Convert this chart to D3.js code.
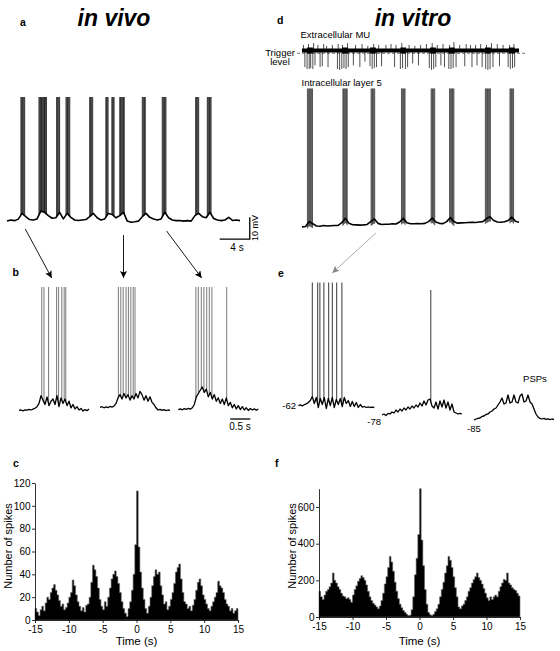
<!DOCTYPE html>
<html>
<head>
<meta charset="utf-8">
<script src="https://cdn.jsdelivr.net/npm/d3@7"></script>
<style>
  body { margin: 0; background: #fff; }
  svg { display: block; }
  text { font-family: "Liberation Sans", Arial, sans-serif; fill: #000; }
</style>
</head>
<body>
<div id="fig"></div>
<script>
// a: in vivo membrane potential (mV), one sample every 0.5 s, 0-31 s
var dtA = 0.5;
var vmA = [-65.5, -65, -65.3, -64.6, -62, -63.5, -64.8, -65, -64.5, -61,
           -61.5, -63, -64.2, -64, -61.5, -64.5, -62, -63.8, -65, -65.2,
           -65, -64.8, -63.5, -62, -64, -65, -64.5, -62, -62.5, -64,
           -63, -61.5, -65.5, -66, -65.8, -65.5, -63.5, -62, -63.8, -64.5,
           -65, -64.5, -61.5, -64, -65, -65.3, -65.2, -65.5, -65.3, -65.5,
           -63, -62, -63.5, -64, -61.5, -64.3, -65, -65.3, -65, -63.8,
           -65.2, -65, -65.3];
var burstTimeA = [2.1, 4.4, 4.8, 5.1, 6.8, 8.1, 11.2, 13.3, 14.1, 15.3, 18.2, 20.9, 25.3, 26.9];
var burstCountA = [6, 4, 5, 4, 5, 6, 5, 4, 4, 7, 5, 6, 5, 6];

// b: three bursts at higher time resolution, one sample every 0.05 s
var dtB = 0.05;
var vmB1 = [-65.2, -65.0, -65.4, -64.9, -65.1, -64.7, -65.0, -64.6, -64.2, -63.5,
            -62.0, -58.5, -60.5, -62.5, -59.0, -63.0, -61.0, -60.0, -62.5, -58.5,
            -63.5, -59.5, -62.0, -60.0, -63.0, -61.0, -64.0, -62.5, -64.5, -63.5,
            -65.0, -64.3, -65.5, -64.8, -65.3, -64.5];
var spikesB1 = [0.57, 0.625, 0.74, 0.94, 0.99, 1.07, 1.13, 1.17];
var vmB2 = [-63.8, -63.5, -64.0, -63.6, -63.9, -63.4, -63.7, -63.2, -62.0, -59.5,
            -58.0, -60.0, -57.5, -59.5, -58.0, -60.5, -58.5, -60.0, -57.5, -59.5,
            -56.5, -58.0, -60.5, -58.5, -61.0, -59.0, -61.5, -62.5, -64.0, -65.0,
            -64.7, -65.2, -64.8, -65.3, -65.0, -65.2];
var spikesB2 = [0.46, 0.52, 0.58, 0.65, 0.71, 0.77, 0.83, 0.875];
var vmB3 = [-64.8, -64.5, -64.9, -64.4, -64.7, -64.3, -64.6, -64.0, -62.5, -59.0,
            -57.5, -56.0, -54.5, -57.0, -55.5, -59.0, -57.0, -60.0, -58.0, -61.0,
            -59.5, -62.0, -60.0, -62.5, -59.5, -63.0, -61.5, -64.0, -62.5, -64.5,
            -63.0, -64.8, -63.5, -65.0, -64.0, -65.2, -64.3, -65.0, -64.5, -65.1,
            -64.6];
var spikesB3 = [0.44, 0.5, 0.575, 0.64, 0.71, 0.775, 0.84, 1.21];
var spikePeakAB = -9;

// d: in vitro, extracellular multi-unit (arbitrary units) and intracellular layer 5 (mV), 0-30 s
var muDownT = [0.4, 0.7, 1.0, 1.2, 1.5, 1.8, 2.5, 2.8, 3.6, 4.9, 5.2, 5.5, 5.8, 6.1, 6.4, 7.1, 8.0, 8.7,
               9.4, 9.7, 10.0, 10.3, 11.0, 12.8, 13.6, 13.9, 14.3, 14.6, 15.3, 16.1, 17.6, 17.9, 18.2,
               18.5, 19.2, 19.7, 20.3, 20.6, 20.9, 21.3, 22.5, 23.5, 24.2, 24.9, 25.4, 25.7, 26.0, 26.4,
               27.3, 28.5, 28.8, 29.1, 29.4];
var muDownA = [-0.9, -1.0, -1.0, -0.95, -1.0, -0.8, -0.9, -0.85, -0.9, -1.0, -1.05, -1.0, -0.95, -1.0,
               -0.9, -0.8, -0.9, -0.6, -0.85, -1.0, -0.95, -0.9, -0.85, -0.9, -1.0, -0.95, -1.0, -0.9,
               -0.7, -0.8, -0.95, -1.05, -1.0, -0.9, -0.8, -0.9, -1.0, -1.0, -0.95, -0.9, -0.85, -0.9,
               -0.8, -0.9, -1.0, -1.05, -1.0, -0.9, -0.85, -0.9, -1.0, -0.95, -0.9];
var muUpT = [0.2, 0.9, 1.6, 2.2, 3.0, 3.4, 4.2, 5.0, 5.6, 6.3, 7.4, 8.3, 9.1, 9.9, 10.6, 11.6, 12.3,
             13.0, 13.8, 14.8, 15.6, 16.4, 17.2, 18.0, 18.7, 19.5, 20.4, 21.0, 21.8, 22.7, 23.3, 24.0,
             24.7, 25.5, 26.2, 27.0, 27.8, 28.7, 29.3];
var muUpA = [0.3, 0.35, 0.4, 0.3, 0.35, 0.25, 0.3, 0.35, 0.3, 0.4, 0.3, 0.35, 0.25, 0.35, 0.3, 0.3,
             0.35, 0.3, 0.4, 0.3, 0.25, 0.3, 0.35, 0.4, 0.3, 0.35, 0.3, 0.45, 0.3, 0.35, 0.3, 0.3,
             0.35, 0.3, 0.4, 0.35, 0.3, 0.3, 0.35];
var triggerLevel = -0.15;
var dtD = 0.5;
var vmD = [-62.4, -62.2, -60.0, -61.0, -62.0, -62.1, -61.8, -62.0, -61.9, -61.8,
           -61.7, -60.5, -58.5, -60.8, -61.4, -61.5, -61.6, -61.5, -61.3, -60.0,
           -58.8, -60.8, -61.3, -61.2, -61.2, -61.0, -61.1, -60.2, -58.5, -60.5,
           -61.0, -61.0, -60.9, -61.0, -60.8, -60.0, -58.4, -60.2, -60.8, -60.9,
           -60.0, -58.2, -60.0, -60.7, -60.6, -60.5, -60.4, -60.3, -60.4, -60.2,
           -60.0, -58.6, -57.8, -59.5, -60.2, -60.3, -60.1, -59.5, -58.0, -59.8,
           -60.3];
var burstTimeD = [1.1, 5.95, 9.8, 14.0, 18.1, 20.7, 25.7, 29.0];
var burstCountD = [8, 7, 6, 6, 6, 7, 8, 6];
var spikePeakD = 0.5;

// e: three holding potentials, mV relative to rest, one sample every 0.05 s
var dtE = 0.05;
var restE = [-62, -78, -85];
var vmE1 = [0, 0.3, -0.2, 0.4, 0.8, 1.5, 2.5, 4.5, 1.0, 4.0,
            -1.0, 3.5, 0.5, 4.0, -1.5, 3.5, 0.0, 4.0, -1.0, 3.0,
            0.5, 3.5, -0.5, 4.0, 1.0, 2.5, -0.5, 2.0, -0.5, 1.5,
            -1.0, 0.5, -0.8, -0.5, -1.0, -0.7, -1.0, -0.8, -1.0];
var spikesE1 = [0.35, 0.485, 0.54, 0.64, 0.76, 0.85, 0.96, 1.09];
var vmE2 = [0, 0.5, -0.3, 0.8, 0.5, 1.5, 1.0, 2.5, 1.5, 3.0,
            2.0, 3.5, 2.5, 4.0, 3.0, 4.5, 3.5, 5.0, 4.0, 6.0,
            4.5, 7.0, 5.0, 7.5, 8.0, 4.5, 3.5, 6.5, 3.0, 7.0,
            4.0, 7.5, 3.5, 6.5, 2.5, 5.5, 1.5, 1.0, 0.5, 0.8,
            0.5];
var spikesE2 = [1.22];
var vmE3 = [0, 0.5, 0.8, 1.0, 1.8, 2.0, 2.8, 3.0, 4.0, 4.5,
            5.5, 6.0, 7.5, 9.0, 11.0, 8.0, 8.5, 12.5, 8.5, 9.0,
            12.5, 9.0, 8.5, 12.0, 13.0, 9.0, 9.5, 12.5, 9.0, 8.0,
            5.5, 3.0, 1.5, 0.8, 0.5, 0.8, 0.3, 0.6, 0.2, 0.5,
            0.3];
var spikesE3 = [];
var spikePeakE = [61.5, 62.5, 0];

// c, f: cross-correlograms, bins of 0.25 s from -15 s to 15 s
var binStart = -15, binWidth = 0.25;
var countsC = [10, 7, 4, 9, 12, 8, 15, 20, 18, 24,
               28, 31, 26, 22, 17, 12, 14, 9, 11, 15,
               20, 24, 35, 30, 22, 16, 12, 8, 11, 7,
               13, 14, 20, 33, 48, 44, 38, 28, 18, 12,
               9, 16, 12, 20, 28, 36, 40, 43, 38, 32,
               24, 16, 10, 6, 3, 10, 16, 26, 40, 66,
               113, 64, 42, 28, 18, 10, 6, 12, 20, 30,
               38, 44, 40, 42, 30, 22, 14, 16, 9, 12,
               18, 24, 32, 42, 46, 49, 36, 24, 16, 14,
               10, 12, 8, 13, 18, 26, 33, 36, 30, 22,
               18, 14, 10, 8, 12, 16, 20, 24, 34, 30,
               28, 24, 18, 14, 12, 8, 10, 6, 8, 10];
var countsF = [140, 110, 95, 120, 140, 150, 165, 185, 240, 200,
               185, 165, 150, 130, 115, 110, 100, 105, 95, 80,
               120, 150, 170, 195, 210, 225, 215, 200, 175, 140,
               110, 90, 75, 65, 55, 45, 60, 90, 130, 180,
               220, 270, 330, 300, 250, 190, 140, 100, 70, 50,
               35, 25, 15, 8, 10, 40, 110, 230, 320, 450,
               700, 420, 280, 150, 70, 25, 12, 8, 15, 30,
               45, 70, 110, 150, 190, 240, 280, 330, 310, 270,
               220, 160, 110, 55, 45, 60, 70, 90, 110, 140,
               160, 185, 205, 220, 240, 215, 200, 180, 155, 130,
               105, 90, 110, 95, 110, 120, 110, 140, 165, 185,
               205, 200, 240, 185, 175, 160, 150, 145, 130, 115];
var timeTicks = [-15, -10, -5, 0, 5, 10, 15];
var yTicksC = [0, 20, 40, 60, 80, 100, 120];
var yTicksF = [0, 200, 400, 600];

var svg = d3.select("#fig").append("svg")
    .attr("width", 560)
    .attr("height", 651);
svg.append("rect").attr("width", 560).attr("height", 651).attr("fill", "#fff");

var defs = svg.append("defs");
[["headBlack", "#000"], ["headGrey", "#888"]].forEach(function (m) {
    defs.append("marker")
        .attr("id", m[0])
        .attr("viewBox", "0 0 10 10")
        .attr("refX", 10).attr("refY", 5)
        .attr("markerWidth", 7).attr("markerHeight", 7)
        .attr("markerUnits", "userSpaceOnUse")
        .attr("orient", "auto")
        .append("path")
        .attr("d", "M0,0 L10,5 L0,10 L2,5 z")
        .attr("fill", m[1]);
});

// linear reading of a sampled trace, used only to hang spikes on the trace
function valueAt(vm, dt, t) {
    var i = Math.max(0, Math.min(vm.length - 1, Math.floor(t / dt)));
    var j = Math.min(vm.length - 1, i + 1);
    var f = Math.max(0, Math.min(1, t / dt - i));
    return vm[i] + (vm[j] - vm[i]) * f;
}

function burstSpikes(times, counts, isi) {
    var out = [];
    times.forEach(function (t, k) {
        for (var i = 0; i < counts[k]; i++) out.push(t + (i - (counts[k] - 1) / 2) * isi);
    });
    return out;
}

function drawTrace(vm, dt, x, y, spikeTimes, peak, o) {
    svg.append("g").selectAll("line")
        .data(spikeTimes)
        .join("line")
        .attr("x1", function (d) { return x(d); })
        .attr("x2", function (d) { return x(d); })
        .attr("y1", function (d) { return y(valueAt(vm, dt, d) - o.under); })
        .attr("y2", y(peak))
        .attr("stroke", o.spikeColor)
        .attr("stroke-width", o.spikeWidth);
    svg.append("path")
        .datum(vm)
        .attr("d", d3.line().x(function (d, i) { return x(i * dt); }).y(function (d) { return y(d); }))
        .attr("fill", "none")
        .attr("stroke", "#000")
        .attr("stroke-width", o.width)
        .attr("stroke-linejoin", "round");
}

function label(txt, x, y, size, opt) {
    opt = opt || {};
    var t = svg.append("text")
        .attr("x", x).attr("y", y)
        .text(txt)
        .style("font-size", size + "px")
        .attr("text-anchor", opt.anchor || "start");
    if (opt.bold) t.attr("font-weight", "bold");
    if (opt.italic) t.attr("font-style", "italic");
    if (opt.rotate) t.attr("transform", "rotate(-90," + x + "," + y + ")");
    return t;
}

// ---------- panel a ----------
var xA = d3.scaleLinear().domain([0, 31]).range([7, 240]);
var yA = d3.scaleLinear().domain([-65, -9]).range([220, 97]);
label("a", 20, 26, 10.5, { bold: true });
label("in vivo", 114, 26, 23, { bold: true, italic: true, anchor: "middle" });
drawTrace(vmA, dtA, xA, yA, burstSpikes(burstTimeA, burstCountA, 0.1), spikePeakAB,
    { width: 1.6, spikeColor: "#222", spikeWidth: 0.9, under: 0 });

// scale bar 4 s / 10 mV
var barEnd = 32.3, barBase = -73.7;
svg.append("path")
    .attr("d", "M" + xA(barEnd - 4) + "," + yA(barBase) + "H" + xA(barEnd) + "V" + yA(barBase + 10))
    .attr("fill", "none").attr("stroke", "#000").attr("stroke-width", 1.3);
label("4 s", 237, 250.5, 10, { anchor: "middle" });
label("10 mV", 258, 228, 9, { anchor: "middle", rotate: true });

// ---------- panel b ----------
var bSegments = [
    { vm: vmB1, spikes: spikesB1, x0: 19 },
    { vm: vmB2, spikes: spikesB2, x0: 100 },
    { vm: vmB3, spikes: spikesB3, x0: 178.3 }
];
var yB = d3.scaleLinear().domain([-65, -9]).range([410, 287]);
label("b", 12.5, 276, 10.5, { bold: true });
bSegments.forEach(function (s) {
    var dur = (s.vm.length - 1) * dtB;
    s.x = d3.scaleLinear().domain([0, dur]).range([s.x0, s.x0 + dur * 40]);
    drawTrace(s.vm, dtB, s.x, yB, s.spikes, spikePeakAB,
        { width: 1.3, spikeColor: "#555", spikeWidth: 0.8, under: 0 });
});
var xB3 = bSegments[2].x;
svg.append("line")
    .attr("x1", xB3(1.3)).attr("x2", xB3(1.8))
    .attr("y1", 419).attr("y2", 419)
    .attr("stroke", "#000").attr("stroke-width", 1.3);
label("0.5 s", 240, 429.5, 10, { anchor: "middle" });

// arrows a -> b
var arrowAB = [
    { burst: 0, y0: 229, x1: 51.7 },
    { burst: 9, y0: 235, x1: 123.5 },
    { burst: 11, y0: 231, x1: 201.7 }
];
arrowAB.forEach(function (a) {
    var x0 = xA(burstTimeA[a.burst]) + 2.5;
    if (a.burst === 9) x0 = a.x1;
    svg.append("line")
        .attr("x1", x0).attr("y1", a.y0)
        .attr("x2", a.x1).attr("y2", 278)
        .attr("stroke", "#000").attr("stroke-width", 0.9)
        .attr("marker-end", "url(#headBlack)");
});

// ---------- panel d ----------
var xD = d3.scaleLinear().domain([0, 30]).range([302, 519]);
var yMU = d3.scaleLinear().domain([-1, 0.4]).range([69, 43.1]);
var yD = d3.scaleLinear().domain([-62, spikePeakD]).range([226, 88.5]);
label("d", 277, 23.5, 10.5, { bold: true });
label("in vitro", 413, 26, 23, { bold: true, italic: true, anchor: "middle" });
label("Extracellular MU", 300.5, 37.5, 9.5);
label("Trigger", 280, 55.5, 9.5, { anchor: "middle" });
label("level", 280, 65, 9.5, { anchor: "middle" });
label("Intracellular layer 5", 301.5, 85.5, 9.5);

svg.append("line")
    .attr("x1", xD(0) - 5).attr("x2", xD(30) + 8)
    .attr("y1", yMU(triggerLevel)).attr("y2", yMU(triggerLevel))
    .attr("stroke", "#333").attr("stroke-width", 0.7)
    .attr("stroke-dasharray", "3,2");
svg.append("g").selectAll("line")
    .data(muDownT.map(function (t, i) { return { t: t, a: muDownA[i] }; })
        .concat(muUpT.map(function (t, i) { return { t: t, a: muUpA[i] }; })))
    .join("line")
    .attr("x1", function (d) { return xD(d.t); })
    .attr("x2", function (d) { return xD(d.t); })
    .attr("y1", yMU(0))
    .attr("y2", function (d) { return yMU(d.a); })
    .attr("stroke", "#222").attr("stroke-width", 0.8);
svg.append("line")
    .attr("x1", xD(0)).attr("x2", xD(30))
    .attr("y1", yMU(0)).attr("y2", yMU(0))
    .attr("stroke", "#000").attr("stroke-width", 4.2);
svg.append("g").selectAll("line")
    .data(burstTimeD)
    .join("line")
    .attr("x1", function (d) { return xD(d - 0.4); })
    .attr("x2", function (d) { return xD(d + 0.4); })
    .attr("y1", yMU(0)).attr("y2", yMU(0))
    .attr("stroke", "#000").attr("stroke-width", 6);

drawTrace(vmD, dtD, xD, yD, burstSpikes(burstTimeD, burstCountD, 0.1), spikePeakD,
    { width: 1.6, spikeColor: "#333", spikeWidth: 0.8, under: 2 });

// ---------- panel e ----------
var eSegments = [
    { vm: vmE1, spikes: spikesE1, x0: 298.3, y0: 405.5, lab: [296, 408.5, "end"] },
    { vm: vmE2, spikes: spikesE2, x0: 382, y0: 415, lab: [381, 425, "end"] },
    { vm: vmE3, spikes: spikesE3, x0: 474, y0: 420, lab: [467, 431.5, "start"] }
];
label("e", 278, 277, 10.5, { bold: true });
eSegments.forEach(function (s, k) {
    var dur = (s.vm.length - 1) * dtE;
    s.x = d3.scaleLinear().domain([0, dur]).range([s.x0, s.x0 + dur * 40]);
    s.y = d3.scaleLinear().domain([0, 10]).range([s.y0, s.y0 - 20]);
    drawTrace(s.vm, dtE, s.x, s.y, s.spikes, spikePeakE[k],
        { width: 1.3, spikeColor: "#222", spikeWidth: 0.9, under: 0 });
    label(String(restE[k]), s.lab[0], s.lab[1], 9.5, { anchor: s.lab[2] });
});
label("PSPs", 535, 381.5, 9.5, { anchor: "middle" });

// arrow d -> e
svg.append("line")
    .attr("x1", xD(burstTimeD[2]) + 3).attr("y1", 233)
    .attr("x2", eSegments[0].x(0.85)).attr("y2", 273)
    .attr("stroke", "#888").attr("stroke-width", 0.7)
    .attr("marker-end", "url(#headGrey)");

// ---------- panels c and f ----------
function correlogram(counts, x, y, yTicks, yMinorStep, letter, lx, ylabX) {
    var bins = counts.map(function (v, i) { return { t: binStart + i * binWidth, v: v }; });
    bins.push({ t: binStart + counts.length * binWidth, v: counts[counts.length - 1] });
    svg.append("path")
        .datum(bins)
        .attr("d", d3.area().curve(d3.curveStepAfter)
            .x(function (d) { return x(d.t); })
            .y0(y(0))
            .y1(function (d) { return y(d.v); }))
        .attr("fill", "#000")
        .attr("stroke", "#666")
        .attr("stroke-width", 0.6);

    var yMax = y.domain()[1];
    var gy = svg.append("g").attr("transform", "translate(" + x.range()[0] + ",0)");
    gy.call(d3.axisLeft(y).tickValues(d3.range(0, yMax + 1e-6, yMinorStep)).tickSize(2).tickFormat(""));
    gy.call(d3.axisLeft(y).tickValues(yTicks).tickSize(3).tickSizeOuter(0).tickPadding(1.5)
        .tickFormat(function (d) { return String(d); }));
    var gx = svg.append("g").attr("transform", "translate(0," + y(0) + ")");
    gx.call(d3.axisBottom(x).tickValues(d3.range(-15, 16, 1)).tickSize(2).tickFormat(""));
    gx.call(d3.axisBottom(x).tickValues(timeTicks).tickSize(3).tickSizeOuter(0).tickPadding(3)
        .tickFormat(function (d) { return String(d); }));
    [gx, gy].forEach(function (g) {
        g.selectAll("path, line").attr("stroke", "#000").attr("stroke-width", 0.8);
        g.selectAll("text").style("font-size", "10px").attr("fill", "#000");
    });

    label(letter, lx, 467, 10.5, { bold: true });
    label("Time (s)", (x.range()[0] + x.range()[1]) / 2, 644.5, 11.5, { anchor: "middle" });
    label("Number of spikes", ylabX, 546, 11, { anchor: "middle", rotate: true });
}

var xC = d3.scaleLinear().domain([-15, 15]).range([35, 238]);
var yC = d3.scaleLinear().domain([0, 120]).range([620, 483]);
correlogram(countsC, xC, yC, yTicksC, 10, "c", 13, 11.5);

var xF = d3.scaleLinear().domain([-15, 15]).range([319, 520]);
var yF = d3.scaleLinear().domain([0, 700]).range([617, 488.7]);
correlogram(countsF, xF, yF, yTicksF, 50, "f", 275, 295.5);
</script>
</body>
</html>
